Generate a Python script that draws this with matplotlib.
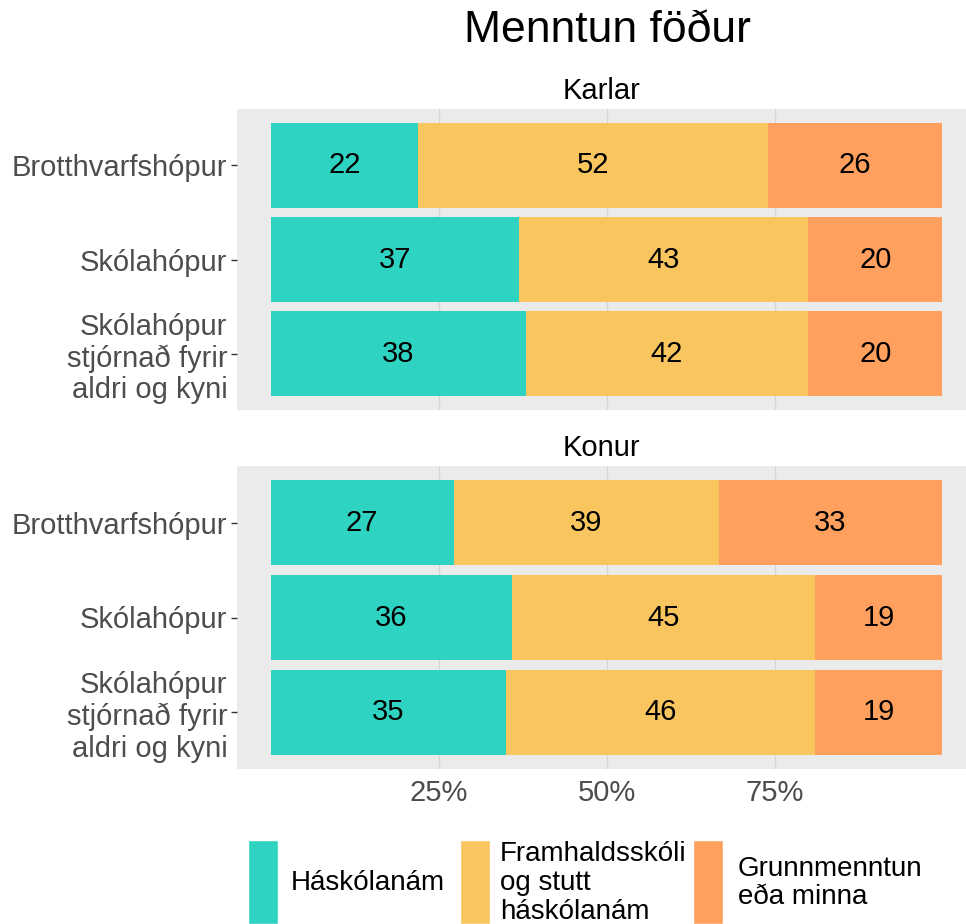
import matplotlib
matplotlib.use("Agg")
import matplotlib.pyplot as plt
from matplotlib.patches import Rectangle
import numpy as np

plt.rcParams['font.family'] = ['Liberation Sans', 'DejaVu Sans']

# gögn
groups = ['Brotthvarfshópur', 'Skólahópur', 'Skólahópur\nstjórnað fyrir\naldri og kyni']
panels = ['Karlar', 'Konur']
levels = ['Háskólanám', 'Framhaldsskóli\nog stutt\nháskólanám', 'Grunnmenntun\neða minna']
colors = ['#2ED3C1', '#F9C55E', '#FFA05E']

karlar = [[22, 52, 26], [37, 43, 20], [38, 42, 20]]
konur = [[27, 39, 33], [36, 45, 19], [35, 46, 19]]
values = [karlar, konur]

fig = plt.figure(figsize=(9.66, 9.24), dpi=100)
W, H = 966, 924

def px_axes(x0, y0, x1, y1):
    return fig.add_axes([x0 / W, 1 - y1 / H, (x1 - x0) / W, (y1 - y0) / H])

axes = [px_axes(237, 109, 966, 410), px_axes(237, 466, 966, 769)]

FS = 21

for ax, name, vals in zip(axes, panels, values):
    ax.set_facecolor('#EBEBEB')
    ypos = np.arange(len(groups))
    for j, row in enumerate(vals):
        row = np.array(row, dtype=float)
        pct = row / row.sum() * 100
        left = 0
        for k, (p, v) in enumerate(zip(pct, row)):
            ax.barh(j, p, left=left, height=0.9, color=colors[k], zorder=2)
            ax.text(left + p / 2, j, f'{int(v)}', ha='center', va='center',
                    fontsize=FS, color='black', zorder=3)
            left += p
    ax.set_xlim(-5, 103.5)
    ax.set_ylim(len(groups) - 0.4, -0.6)
    ax.set_yticks(ypos)
    ax.set_yticklabels(groups, fontsize=FS, color='#4D4D4D', linespacing=1.16)
    ax.set_xticks([25, 50, 75])
    ax.grid(axis='x', color='#D6D6D6', linewidth=1, zorder=0)
    ax.set_axisbelow(True)
    for s in ax.spines.values():
        s.set_visible(False)
    ax.tick_params(axis='y', length=4, color='#333333', width=1, pad=3)
    ax.tick_params(axis='x', length=0, pad=7)
    ax.set_title(name, fontsize=FS, pad=7)

axes[0].set_xticklabels([])
axes[1].set_xticklabels(['25%', '50%', '75%'], fontsize=FS, color='#4D4D4D')

fig.text(607 / W, 1 - 30 / H, 'Menntun föður', ha='center', va='center', fontsize=32)

# legend neðst
key_x = [248, 460, 693]
text_x = [291, 500, 738]
for kx, tx, lab, c in zip(key_x, text_x, levels, colors):
    fig.add_artist(Rectangle((kx / W, 0), 30 / W, 84 / H, transform=fig.transFigure,
                             facecolor=c, edgecolor='white', linewidth=1))
    fig.text(tx / W, 1 - 883 / H, lab, ha='left', va='center', fontsize=20,
             linespacing=1.13)

fig.savefig('out.png', dpi=100)
